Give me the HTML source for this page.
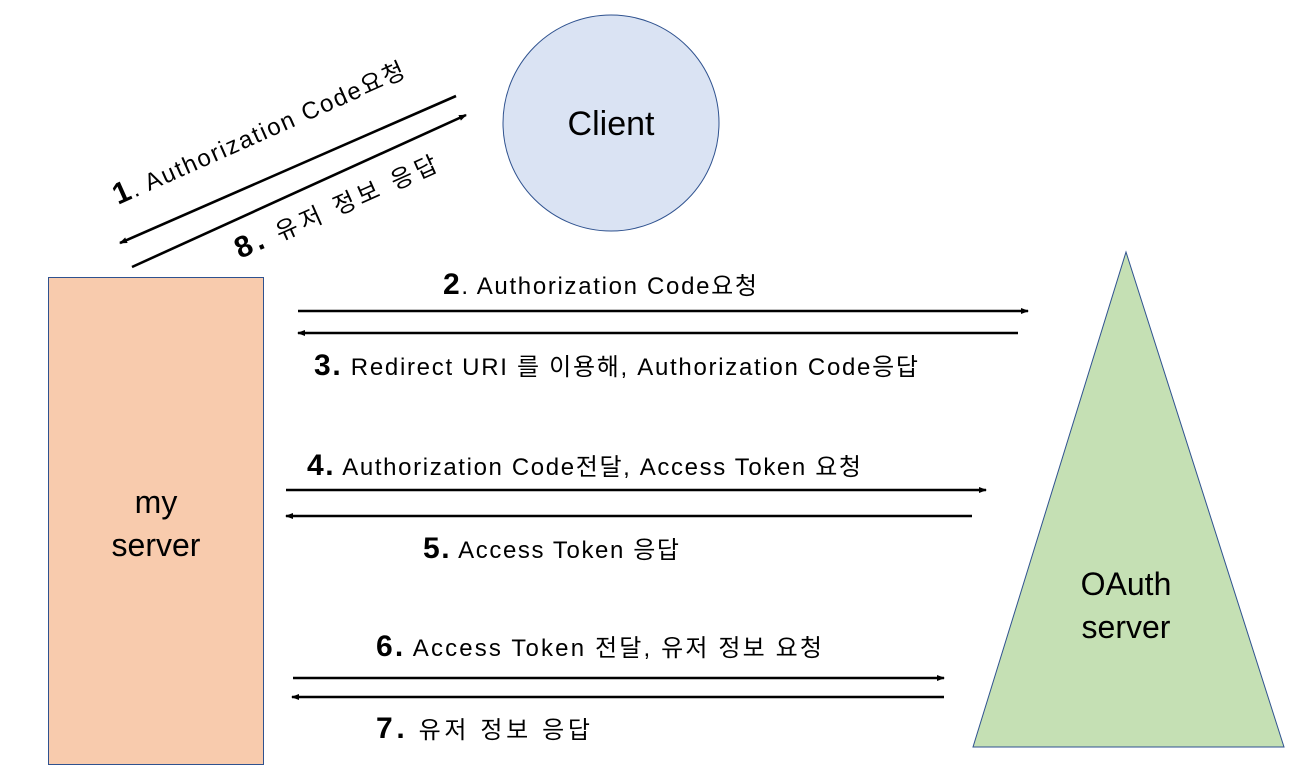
<!DOCTYPE html>
<html><head><meta charset="utf-8"><style>
html,body{margin:0;padding:0;background:#fff;}
svg{display:block;}
text{font-family:"Liberation Sans","Noto Sans CJK KR",sans-serif;fill:#000;}
.b{font-weight:bold;font-size:30px;}
.t{font-size:24px;}
</style></head><body>
<svg width="1308" height="767" viewBox="0 0 1308 767" xmlns="http://www.w3.org/2000/svg">
<defs>
<marker id="a" markerWidth="8" markerHeight="6" refX="7" refY="3" orient="auto" markerUnits="userSpaceOnUse">
<path d="M0,0 L8,3 L0,6 Z" fill="#000"/></marker>
</defs>
<rect x="48.5" y="277.5" width="215" height="487" fill="#f8cbad" stroke="#2f528f" stroke-width="1"/>
<text x="156" y="513" text-anchor="middle" style="font-size:32px">my</text>
<text x="156" y="556" text-anchor="middle" style="font-size:32px">server</text>
<circle cx="611" cy="123" r="108" fill="#dae3f3" stroke="#2f528f" stroke-width="1"/>
<text x="611" y="135" text-anchor="middle" style="font-size:34px">Client</text>
<polygon points="1126,252 973,747 1284,747" fill="#c5e0b4" stroke="#2f528f" stroke-width="1"/>
<text x="1126" y="595" text-anchor="middle" style="font-size:32px">OAuth</text>
<text x="1126" y="638" text-anchor="middle" style="font-size:32px">server</text>

<g stroke="#000" stroke-width="2.6" fill="none">
<line x1="456" y1="96" x2="120" y2="243" marker-end="url(#a)"/>
<line x1="132" y1="267" x2="466" y2="115" marker-end="url(#a)"/>
<line x1="298" y1="311" x2="1028" y2="311" marker-end="url(#a)"/>
<line x1="1018" y1="333" x2="298" y2="333" marker-end="url(#a)"/>
<line x1="286" y1="490" x2="986" y2="490" marker-end="url(#a)"/>
<line x1="972" y1="516" x2="286" y2="516" marker-end="url(#a)"/>
<line x1="293" y1="678" x2="944" y2="678" marker-end="url(#a)"/>
<line x1="944" y1="697" x2="292" y2="697" marker-end="url(#a)"/>
</g>

<text transform="translate(118,205) rotate(-24)" textLength="316" lengthAdjust="spacing"><tspan class="b">1</tspan><tspan class="t">. Authorization Code요청</tspan></text>
<text transform="translate(240,259) rotate(-24)" textLength="218" lengthAdjust="spacing"><tspan class="b">8.</tspan><tspan class="t"> 유저 정보 응답</tspan></text>

<text x="443" y="294" textLength="314" lengthAdjust="spacing"><tspan class="b">2</tspan><tspan class="t">. Authorization Code요청</tspan></text>
<text x="314" y="375" textLength="604" lengthAdjust="spacing"><tspan class="b">3.</tspan><tspan class="t"> Redirect URI 를 이용해, Authorization Code응답</tspan></text>
<text x="307" y="475" textLength="554" lengthAdjust="spacing"><tspan class="b">4.</tspan><tspan class="t"> Authorization Code전달, Access Token 요청</tspan></text>
<text x="423" y="558" textLength="256" lengthAdjust="spacing"><tspan class="b">5.</tspan><tspan class="t"> Access Token 응답</tspan></text>
<text x="376" y="656" textLength="446" lengthAdjust="spacing"><tspan class="b">6.</tspan><tspan class="t"> Access Token 전달, 유저 정보 요청</tspan></text>
<text x="376" y="738" textLength="214" lengthAdjust="spacing"><tspan class="b">7.</tspan><tspan class="t"> 유저 정보 응답</tspan></text>
</svg>
</body></html>
